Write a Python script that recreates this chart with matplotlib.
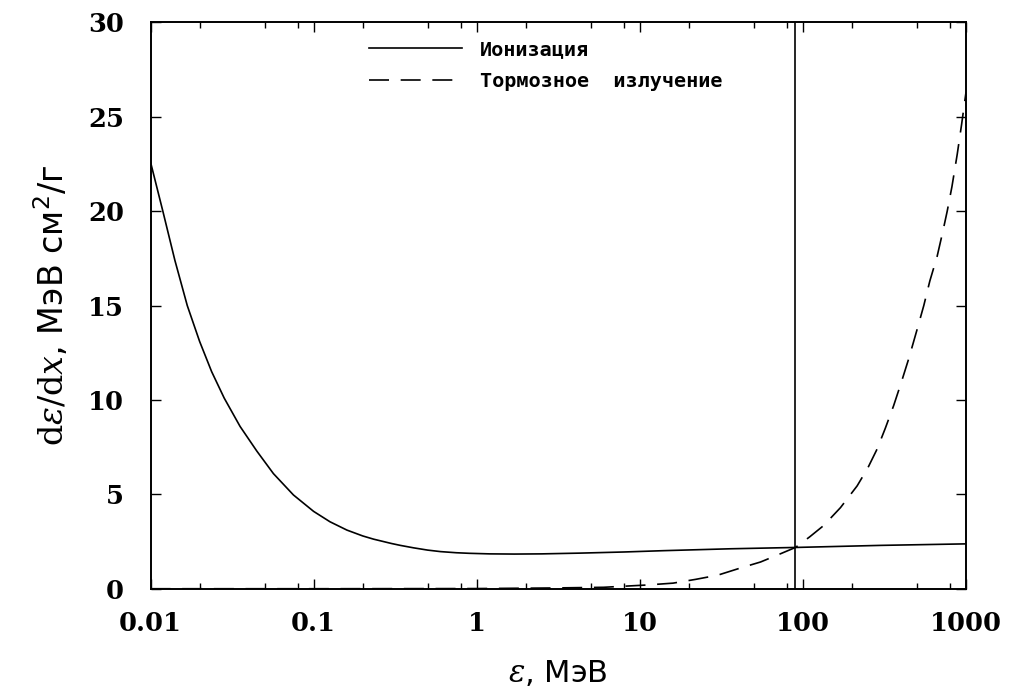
import matplotlib
matplotlib.use("Agg")
import matplotlib.pyplot as plt
from matplotlib.ticker import LogLocator, FixedLocator, NullFormatter

plt.rcParams['mathtext.fontset'] = 'dejavuserif'

# ионизационные потери (сплошная линия)
e_ion = [0.01, 0.0119, 0.0141, 0.0168, 0.02, 0.0237, 0.0283, 0.0354, 0.0448, 0.0567,
         0.0752, 0.1, 0.126, 0.16, 0.2, 0.233, 0.3, 0.34, 0.41, 0.5, 0.6, 0.75, 0.9,
         1.2, 1.7, 2.5, 4.3, 8, 14, 36, 90, 300, 1000]
ion = [22.6, 20.0, 17.4, 15.0, 13.1, 11.5, 10.1, 8.6, 7.3, 6.1,
       4.97, 4.1, 3.55, 3.11, 2.8, 2.63, 2.4, 2.3, 2.17, 2.05, 1.97, 1.91, 1.88,
       1.85, 1.84, 1.85, 1.89, 1.95, 2.02, 2.12, 2.19, 2.3, 2.38]

# тормозное излучение (штриховая линия)
e_brem = [0.01, 0.1, 1, 3, 6, 11, 16, 22, 30, 41, 55, 74, 90, 110, 134, 170, 215, 250,
          285, 320, 360, 400, 446, 500, 551, 600, 665, 720, 767, 820, 883, 940, 1000]
brem = [0.004, 0.004, 0.013, 0.045, 0.08, 0.2, 0.3, 0.5, 0.72, 1.09, 1.42, 1.88, 2.19, 2.75,
        3.35, 4.3, 5.45, 6.4, 7.4, 8.5, 9.7, 10.9, 12.2, 13.7, 15.0, 16.3, 17.6, 18.9,
        20.0, 21.3, 23.0, 24.6, 26.3]

e_crit = 90

fig = plt.figure(figsize=(10.13, 6.95), dpi=100)
ax = fig.add_axes([0.1486, 0.1528, 0.805, 0.8150])

ax.plot(e_ion, ion, '-', color='black', lw=1.2, label='Ионизация')
ax.plot(e_brem, brem, color='black', lw=1.2, dashes=(12, 7), label='Тормозное  излучение')
ax.axvline(e_crit, color='black', lw=1.2)

ax.set_xscale('log')
ax.set_xlim(0.01, 1000)
ax.set_ylim(0, 30)

ax.xaxis.set_minor_locator(LogLocator(base=10, subs=[2, 5, 8], numticks=10))
ax.xaxis.set_minor_formatter(NullFormatter())
ax.set_xticks([0.01, 0.1, 1, 10, 100, 1000])
ax.set_xticklabels(['0.01', '0.1', '1', '10', '100', '1000'])
ax.yaxis.set_major_locator(FixedLocator([0, 5, 10, 15, 20, 25, 30]))

ax.tick_params(which='both', direction='in', top=True, right=True, width=1.0)
ax.tick_params(which='major', length=7)
ax.tick_params(which='minor', length=4)
ax.tick_params(axis='x', pad=16)
ax.tick_params(axis='y', pad=19)
for lab in ax.get_xticklabels() + ax.get_yticklabels():
    lab.set_fontfamily('DejaVu Serif')
    lab.set_fontweight('bold')
    lab.set_fontsize(18.5)

for s in ax.spines.values():
    s.set_linewidth(1.4)

ax.set_xlabel(r'$\varepsilon$, МэВ', fontsize=22, labelpad=16)
ax.set_ylabel(r'$\mathrm{d}\varepsilon/\mathrm{d}x$, МэВ см$^{\mathsf{2}}$/г', fontsize=24,
              labelpad=12)

leg = ax.legend(loc='upper left', bbox_to_anchor=(0.246, 1.0), frameon=False,
                handlelength=4.6, handletextpad=0.9, labelspacing=0.6,
                prop={'family': 'DejaVu Sans Mono', 'weight': 'bold', 'size': 14.5})

plt.savefig('out.png', dpi=100)
